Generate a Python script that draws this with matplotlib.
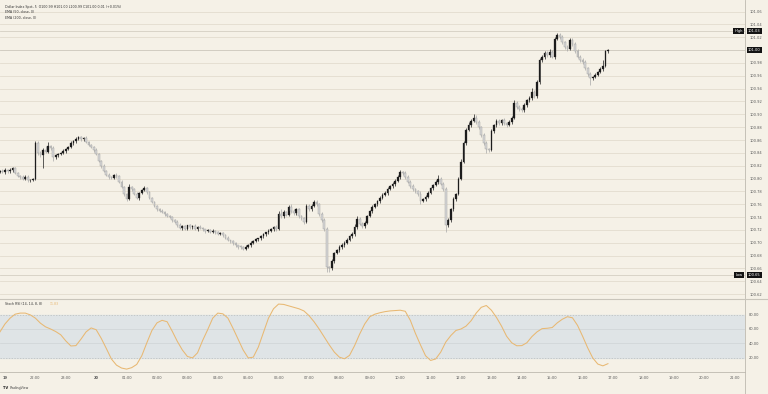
import numpy as np
import matplotlib.pyplot as plt
from matplotlib.transforms import blended_transform_factory

# 5-minute candles, first one at 20:50 on the 19th
first_open = 100.810
closes = [
    100.812, 100.810, 100.814, 100.811, 100.813, 100.816, 100.809, 100.804, 100.802, 100.800, 100.803, 100.797,
    100.798, 100.799, 100.855, 100.840, 100.836, 100.845, 100.842, 100.850, 100.848, 100.833, 100.836, 100.838,
    100.840, 100.843, 100.846, 100.849, 100.855, 100.858, 100.862, 100.864, 100.861, 100.863, 100.857, 100.852,
    100.849, 100.845, 100.838, 100.828, 100.820, 100.812, 100.806, 100.802, 100.801, 100.806, 100.804, 100.795,
    100.787, 100.776, 100.768, 100.787, 100.783, 100.776, 100.770, 100.778, 100.782, 100.785, 100.779, 100.770,
    100.764, 100.757, 100.752, 100.750, 100.748, 100.745, 100.742, 100.740, 100.736, 100.733, 100.728, 100.723,
    100.726, 100.722, 100.727, 100.724, 100.726, 100.722, 100.725, 100.723, 100.721, 100.718, 100.720, 100.717,
    100.719, 100.717, 100.714, 100.715, 100.712, 100.708, 100.704, 100.702, 100.699, 100.696, 100.694, 100.693,
    100.691, 100.694, 100.697, 100.700, 100.703, 100.706, 100.707, 100.710, 100.713, 100.716, 100.719, 100.721,
    100.724, 100.722, 100.745, 100.741, 100.748, 100.744, 100.755, 100.750, 100.746, 100.752, 100.741, 100.738,
    100.733, 100.758, 100.752, 100.758, 100.763, 100.760, 100.745, 100.735, 100.722, 100.662, 100.660, 100.672,
    100.684, 100.688, 100.693, 100.697, 100.700, 100.704, 100.710, 100.714, 100.724, 100.737, 100.730, 100.726,
    100.731, 100.742, 100.749, 100.756, 100.760, 100.765, 100.770, 100.775, 100.778, 100.784, 100.788, 100.792,
    100.796, 100.803, 100.810, 100.808, 100.803, 100.795, 100.788, 100.783, 100.780, 100.776, 100.765, 100.768,
    100.772, 100.778, 100.785, 100.790, 100.795, 100.800, 100.792, 100.783, 100.728, 100.736, 100.752, 100.768,
    100.776, 100.800, 100.826, 100.855, 100.876, 100.884, 100.890, 100.895, 100.888, 100.880, 100.868, 100.856,
    100.846, 100.845, 100.874, 100.883, 100.889, 100.887, 100.891, 100.886, 100.884, 100.888, 100.895, 100.918,
    100.912, 100.908, 100.906, 100.914, 100.922, 100.925, 100.935, 100.928, 100.950, 100.984, 100.990, 100.996,
    100.992, 100.997, 100.990, 101.018, 101.024, 101.020, 101.012, 101.005, 101.002, 101.016, 101.010, 100.998,
    100.990, 100.985, 100.981, 100.972, 100.963, 100.956, 100.958, 100.962, 100.966, 100.970, 100.975, 100.998,
    101.000,
]
# wick lengths in thousandths above max(open, close) and below min(open, close)
upper_wick = [
    2, 3, 2, 1, 3, 2, 2, 1, 2, 3, 2, 2,
    1, 2, 3, 4, 3, 2, 5, 7, 2, 3, 2, 2,
    2, 3, 2, 1, 3, 2, 2, 3, 2, 1, 3, 2,
    2, 2, 3, 2, 1, 2, 2, 3, 2, 1, 2, 2,
    3, 2, 2, 4, 2, 2, 3, 1, 2, 3, 2, 2,
    2, 1, 2, 2, 3, 2, 1, 2, 2, 1, 2, 3,
    2, 2, 1, 2, 2, 3, 1, 2, 2, 1, 2, 2,
    2, 1, 2, 2, 1, 2, 2, 1, 2, 2, 1, 2,
    2, 2, 1, 2, 2, 2, 1, 2, 2, 1, 2, 2,
    2, 3, 4, 8, 3, 2, 4, 5, 3, 2, 2, 2,
    2, 3, 3, 2, 3, 4, 2, 3, 3, 2, 2, 3,
    2, 2, 3, 2, 2, 3, 2, 2, 5, 4, 3, 2,
    3, 2, 2, 3, 2, 2, 3, 2, 2, 3, 2, 2,
    3, 2, 3, 2, 3, 2, 2, 3, 2, 2, 4, 2,
    2, 3, 2, 2, 3, 5, 3, 2, 4, 3, 2, 3,
    2, 3, 4, 3, 3, 4, 3, 6, 4, 3, 2, 3,
    3, 2, 3, 2, 3, 3, 2, 3, 2, 3, 3, 4,
    3, 2, 3, 3, 2, 3, 6, 3, 4, 3, 2, 3,
    3, 4, 3, 3, 3, 2, 3, 2, 3, 3, 3, 2,
    3, 2, 2, 3, 2, 3, 2, 3, 2, 3, 10, 2,
    2,
]
lower_wick = [
    2, 2, 3, 2, 2, 3, 2, 2, 3, 2, 2, 3,
    2, 2, 2, 4, 3, 20, 3, 2, 3, 5, 2, 2,
    2, 2, 3, 2, 2, 3, 2, 2, 3, 2, 2, 2,
    2, 3, 2, 2, 3, 2, 2, 3, 2, 2, 3, 2,
    2, 3, 3, 2, 3, 2, 2, 3, 2, 2, 3, 2,
    2, 2, 3, 2, 2, 3, 2, 2, 3, 2, 3, 2,
    3, 2, 2, 3, 2, 2, 3, 2, 2, 3, 2, 2,
    2, 3, 2, 2, 3, 2, 2, 3, 2, 2, 3, 2,
    3, 2, 2, 3, 2, 2, 3, 2, 2, 3, 2, 2,
    2, 3, 2, 3, 2, 3, 2, 3, 2, 3, 2, 3,
    3, 2, 3, 2, 3, 2, 3, 3, 4, 8, 6, 3,
    3, 2, 3, 2, 3, 2, 2, 3, 4, 3, 2, 3,
    3, 2, 2, 3, 2, 2, 3, 2, 2, 3, 2, 2,
    3, 2, 3, 2, 3, 2, 2, 3, 2, 3, 4, 2,
    3, 2, 2, 3, 2, 3, 2, 3, 11, 3, 3, 2,
    3, 2, 3, 2, 3, 2, 3, 2, 3, 3, 4, 3,
    6, 3, 2, 3, 2, 3, 3, 2, 3, 2, 3, 2,
    3, 3, 2, 3, 2, 3, 3, 3, 2, 3, 3, 4,
    3, 2, 3, 4, 3, 2, 3, 3, 3, 2, 3, 2,
    3, 3, 2, 3, 3, 10, 3, 2, 3, 2, 3, 2,
    2,
]
# Stoch RSI %K, one value every second candle
stoch = [
    56, 67, 75, 80.5, 82, 82, 79.5, 75, 68, 63,
    60, 56.5, 52, 43.5, 36.5, 37, 46, 56, 61.5, 59,
    47, 33, 18.5, 10, 6, 4.5, 6.5, 11, 23, 41,
    58, 68.5, 72, 70, 57, 43, 31, 22, 20, 27,
    44, 59, 75, 82, 81, 75, 61, 46, 31, 20,
    21, 35, 55, 75, 88, 94.5, 94, 92, 90, 88,
    85, 78.5, 70, 60, 49, 38, 28, 21, 18.8, 23.5,
    37, 53, 67, 77, 80.5, 82.5, 84, 85, 85.5, 86,
    84.5, 72, 54, 38, 23, 16.5, 18.5, 28, 42, 51,
    58, 60, 64, 71.5, 82, 90, 92.5, 86, 76, 64,
    50, 41, 36.8, 37, 41, 49.5, 56, 60.5, 61, 62,
    68.5, 73.5, 77, 75.5, 65, 50, 34, 20, 11.5, 9,
    12,
]
time_labels = ['19', '22:00', '23:00', '20', '01:00', '02:00', '03:00', '04:00', '05:00',
               '06:00', '07:00', '08:00', '09:00', '10:00', '11:00', '12:00', '13:00',
               '14:00', '15:00', '16:00', '17:00', '18:00', '19:00', '20:00', '21:00']
price_ticks = [100.62, 100.64, 100.66, 100.68, 100.70, 100.72, 100.74, 100.76, 100.78, 100.80, 100.82,
               100.84, 100.86, 100.88, 100.90, 100.92, 100.94, 100.96, 100.98, 101.00, 101.02, 101.04, 101.06]
stoch_ticks = [20, 40, 60, 80]
day_high = 101.03
day_low = 100.65
last_price = 101.00

bg = '#f5f1e7'
grid = '#e2dccf'
txt = '#5a5a5a'
W, H = 768, 394

closes = np.array(closes)
opens = np.concatenate([[first_open], closes[:-1]])
highs = np.maximum(opens, closes) + np.array(upper_wick) / 1000
lows = np.minimum(opens, closes) - np.array(lower_wick) / 1000
t = -1 / 6 + np.arange(len(closes)) / 12  # hours after 21:00 on the 19th
t_stoch = t[::2]

fig = plt.figure(figsize=(W / 100, H / 100), dpi=100)
fig.patch.set_facecolor(bg)
ax = fig.add_axes([0, 1 - 298 / H, 745 / W, 298 / H])
ax2 = fig.add_axes([0, 1 - 372 / H, 745 / W, 73 / H])
xlim = (-5 / 30.4, 740 / 30.4)

for a in (ax, ax2):
    a.set_facecolor(bg)
    a.set_xlim(*xlim)
    for s in ('top', 'left', 'bottom'):
        a.spines[s].set_visible(False)
    a.spines['right'].set_color('#bdb9af')
    a.spines['right'].set_linewidth(0.6)
    a.yaxis.tick_right()
    a.tick_params(axis='y', length=0, pad=3, labelsize=2.6, labelcolor=txt)

# price pane
ax.set_ylim(100.614, 101.078)
ax.set_yticks(price_ticks)
ax.set_yticklabels([f'{p:.2f}' for p in price_ticks])
ax.set_xticks([])
for p in price_ticks:
    ax.axhline(p, color=grid, lw=0.6, zorder=0)
ax.axhline(day_high, color='#d4cfc3', lw=0.6, zorder=0)
ax.axhline(last_price, color='#cfcac0', lw=0.6, zorder=0)
ax.axhline(day_low, color='#d4cfc3', lw=0.6, zorder=0)

up = closes >= opens
ax.vlines(t[up], lows[up], highs[up], color='#1c1c1c', lw=0.5, zorder=2)
ax.vlines(t[~up], lows[~up], highs[~up], color='#a8a8a8', lw=0.5, zorder=2)
body = np.maximum(np.abs(closes - opens), 0.0012)
ax.bar(t[up], body[up], bottom=np.minimum(opens, closes)[up], width=0.058,
       color='#1c1c1c', edgecolor='#1c1c1c', lw=0.2, zorder=3)
ax.bar(t[~up], body[~up], bottom=np.minimum(opens, closes)[~up], width=0.058,
       color='#d6d6d6', edgecolor='#9d9d9d', lw=0.3, zorder=3)

tr = blended_transform_factory(ax.transAxes, ax.transData)
box = dict(boxstyle='square,pad=0.35', fc='#131313', ec='none')
ax.text(1.004, day_high, f'{day_high:.2f}', transform=tr, fontsize=2.6, color='white',
        va='center', ha='left', bbox=box, zorder=5)
ax.text(0.997, day_high, 'High', transform=tr, fontsize=2.6, color='white',
        va='center', ha='right', bbox=box, zorder=5)
ax.text(1.004, last_price, f'{last_price:.2f}', transform=tr, fontsize=2.6, color='white',
        va='center', ha='left', bbox=box, zorder=5)
ax.text(1.004, day_low, f'{day_low:.2f}', transform=tr, fontsize=2.6, color='white',
        va='center', ha='left', bbox=box, zorder=5)
ax.text(0.997, day_low, 'Low', transform=tr, fontsize=2.6, color='white',
        va='center', ha='right', bbox=box, zorder=5)

# stoch rsi pane
ax2.set_ylim(0.5, 101.5)
ax2.axhspan(20, 80, color='#dfe4e6', zorder=0)
ax2.axhline(80, color='#b8bcbc', lw=0.5, ls=(0, (2, 2)), zorder=1)
ax2.axhline(20, color='#b8bcbc', lw=0.5, ls=(0, (2, 2)), zorder=1)
ax2.axhline(60, color='#cfd4d5', lw=0.5, zorder=1)
ax2.axhline(40, color='#cfd4d5', lw=0.5, zorder=1)
ax2.plot(t_stoch, stoch, color='#e8b872', lw=0.75, zorder=3)
ax2.set_yticks(stoch_ticks)
ax2.set_yticklabels([f'{v:.2f}' for v in stoch_ticks])
ax2.spines['bottom'].set_visible(True)
ax2.spines['bottom'].set_color('#bdb9af')
ax2.spines['bottom'].set_linewidth(0.6)
ax2.set_xticks(range(len(time_labels)))
ax2.set_xticklabels(time_labels)
ax2.tick_params(axis='x', length=0, pad=3, labelsize=2.6, labelcolor=txt)
for lab in ax2.get_xticklabels():
    if ':' not in lab.get_text():
        lab.set_fontweight('bold')

# pane separator and right axis line down to the bottom
fig.add_artist(plt.Line2D([0, 1], [1 - 298.5 / H, 1 - 298.5 / H], color='#c9c5bb', lw=0.8))
fig.add_artist(plt.Line2D([745 / W, 745 / W], [0, 1 - 372 / H], color='#bdb9af', lw=0.6))

# legends
fig.text(5 / W, 1 - 6.7 / H, 'Dollar Index Spot, 5  O100.99 H101.00 L100.99 C101.00 0.01 (+0.01%)',
         fontsize=2.3, color='#333333', va='center')
fig.text(5 / W, 1 - 12.3 / H, 'EMA (50, close, 0)', fontsize=2.3, color='#333333', va='center')
fig.text(5 / W, 1 - 17.7 / H, 'EMA (200, close, 0)', fontsize=2.3, color='#333333', va='center')
fig.text(5 / W, 1 - 304 / H, 'Stoch RSI (14, 14, 8, 8)', fontsize=2.3, color='#333333', va='center')
fig.text(50 / W, 1 - 304 / H, '11.83', fontsize=2.3, color='#e8b872', va='center')
fig.text(3 / W, 1 - 388 / H, 'TV', fontsize=2.6, color='#222222', va='center', fontweight='bold')
fig.text(10 / W, 1 - 388 / H, 'TradingView', fontsize=2.3, color='#444444', va='center')

fig.savefig('out.png', dpi=100, facecolor=bg)
